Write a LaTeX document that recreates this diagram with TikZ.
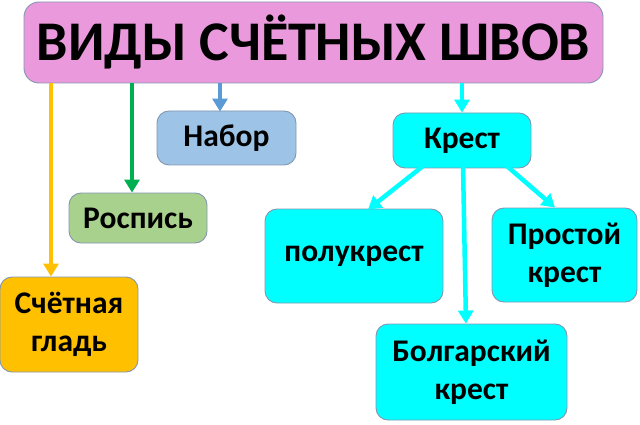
\documentclass[tikz,border=0pt]{standalone}
\usepackage{fontspec}
\setmainfont{Carlito}
\usetikzlibrary{arrows.meta}
\definecolor{pinkc}{HTML}{EA9ADC}
\definecolor{bluec}{HTML}{9DC3E6}
\definecolor{greenc}{HTML}{A9D18E}
\definecolor{orangec}{HTML}{FFC000}
\definecolor{cyanc}{HTML}{00FFFF}
\definecolor{garr}{HTML}{00B050}
\definecolor{barr}{HTML}{5B9BD5}
\definecolor{edgec}{HTML}{8497B0}
\tikzset{
  box/.style={draw=edgec, line width=0.9pt, rounded corners=12pt, rectangle,
    align=center, inner sep=0pt, font=\fontsize{31.5}{38}\selectfont\bfseries},
  arr/.style={line width=4.5pt, -{Triangle[width=15pt,length=13pt]}},
}
\begin{document}
\begin{tikzpicture}[x=1pt,y=-1pt]
\useasboundingbox (0,0) rectangle (640,425);
\node[box, fill=pinkc, minimum width=579pt, minimum height=81pt, rounded corners=15pt,
  font=\fontsize{56}{60}\selectfont\bfseries] (title) at (313.5,42.5) {ВИДЫ СЧЁТНЫХ ШВОВ};
\node[box, fill=bluec, minimum width=139pt, minimum height=54pt] (nb) at (226.5,138) {Набор};
\node[box, fill=greenc, minimum width=138pt, minimum height=50pt] (rs) at (138,218) {Роспись};
\node[box, fill=orangec, minimum width=138pt, minimum height=95pt] (sg) at (69,324.5) {Счётная\\гладь};
\node[box, fill=cyanc, minimum width=138pt, minimum height=55pt] (kr) at (462,140.5) {Крест};
\node[box, fill=cyanc, minimum width=178pt, minimum height=94pt] (pk) at (354,256) {полукрест};
\node[box, fill=cyanc, minimum width=145pt, minimum height=94pt] (pr) at (564.5,255) {Простой\\крест};
\node[box, fill=cyanc, minimum width=191pt, minimum height=96pt] (bg) at (471.5,372) {Болгарский\\крест};

\draw[arr, orangec] (title.south -| 51,0) -- (sg.north -| 51,0);
\draw[arr, garr] (title.south -| 132,0) -- (rs.north -| 132,0);
\draw[arr, barr] (title.south -| 220,0) -- ([yshift=-1pt]nb.north -| 220,0);
\draw[arr, cyanc] (title.south -| kr.north) -- (kr.north);
\draw[arr, cyanc] ([xshift=-37pt,yshift=4pt]kr.south) -- ([xshift=14pt,yshift=-1pt]pk.north);
\draw[arr, cyanc] ([xshift=1pt,yshift=4pt]kr.south) -- ([xshift=-5.5pt]bg.north);
\draw[arr, cyanc] ([xshift=43pt,yshift=4pt]kr.south) -- ([xshift=-9.5pt]pr.north);
\end{tikzpicture}
\end{document}
